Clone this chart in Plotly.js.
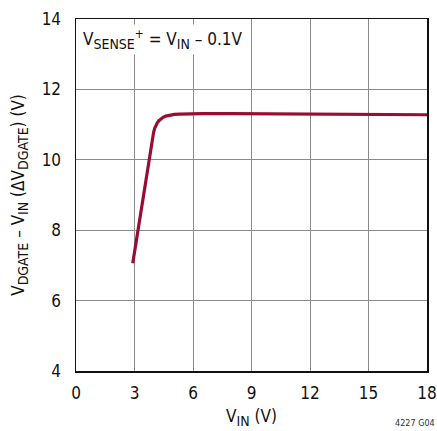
<!DOCTYPE html>
<html>
<head>
<meta charset="utf-8">
<script src="https://cdn.plot.ly/plotly-3.0.1.min.js"></script>
<style>html,body{margin:0;padding:0;background:#fff;}#chart{width:437px;height:431px;}</style>
</head>
<body>
<div id="chart"></div>
<script>
const vin = [2.91, 3.16, 3.4, 3.71, 3.9, 3.98, 4.04, 4.1, 4.17, 4.25, 4.33, 4.45, 4.6, 4.82, 5.05, 5.3, 5.67, 6.5, 8, 10, 12, 14, 16, 18];
const vdgate = [7.06, 7.96, 8.8, 9.9, 10.55, 10.78, 10.9, 10.98, 11.05, 11.11, 11.15, 11.2, 11.24, 11.27, 11.29, 11.3, 11.31, 11.31, 11.31, 11.3, 11.3, 11.29, 11.29, 11.28];
const xTicks = [0, 3, 6, 9, 12, 15, 18];
const yTicks = [4, 6, 8, 10, 12, 14];

const FONT = "'Liberation Sans Narrow', 'Arial Narrow', 'DejaVu Sans Condensed', sans-serif";
const sub = s => '<sub><span style="font-size:14px">' + s + '</span></sub>';

const trace = {
  x: vin, y: vdgate, mode: 'lines', type: 'scatter',
  line: {color: '#9a0d33', width: 3.2, shape: 'linear'},
  hoverinfo: 'skip'
};

const axisCommon = {
  showgrid: true, gridcolor: '#8a8a8a', gridwidth: 1,
  zeroline: false, showline: true, linecolor: '#111', linewidth: 1.5, mirror: true,
  ticks: '', tickfont: {family: FONT, size: 17, color: '#111'}
};

const layout = {
  width: 437, height: 431,
  margin: {l: 76, r: 10, t: 19, b: 60},
  paper_bgcolor: '#fff', plot_bgcolor: '#fff',
  showlegend: false,
  font: {family: FONT, color: '#111'},
  xaxis: Object.assign({}, axisCommon, {
    range: [0, 18], tickvals: xTicks, ticktext: xTicks.map(String), ticklabelstandoff: 6,
    title: {text: 'V' + sub('IN') + ' (V)', font: {family: FONT, size: 17, color: '#111'}, standoff: 8}
  }),
  yaxis: Object.assign({}, axisCommon, {
    range: [4, 14], tickvals: yTicks, ticktext: yTicks.map(String), ticklabelstandoff: 10,
    title: {text: 'V' + sub('DGATE') + ' – V' + sub('IN') + ' (ΔV' + sub('DGATE') + ') (V)', font: {family: FONT, size: 17, color: '#111'}, standoff: 12}
  }),
  annotations: [
    {xref: 'paper', yref: 'paper', x: 0.012, y: 0.985, xanchor: 'left', yanchor: 'top', showarrow: false,
     text: 'V' + sub('SENSE') + '<sup>+</sup> = V' + sub('IN') + ' – 0.1V', font: {family: FONT, size: 17, color: '#111'},
     bgcolor: '#fff', borderpad: 2},
    {xref: 'paper', yref: 'paper', x: 1.028, y: -0.168, xanchor: 'right', yanchor: 'bottom', showarrow: false,
     text: '4227 G04', font: {family: FONT, size: 9, color: '#333'}}
  ]
};

Plotly.newPlot('chart', [trace], layout, {displayModeBar: false, staticPlot: true});
</script>
</body>
</html>
